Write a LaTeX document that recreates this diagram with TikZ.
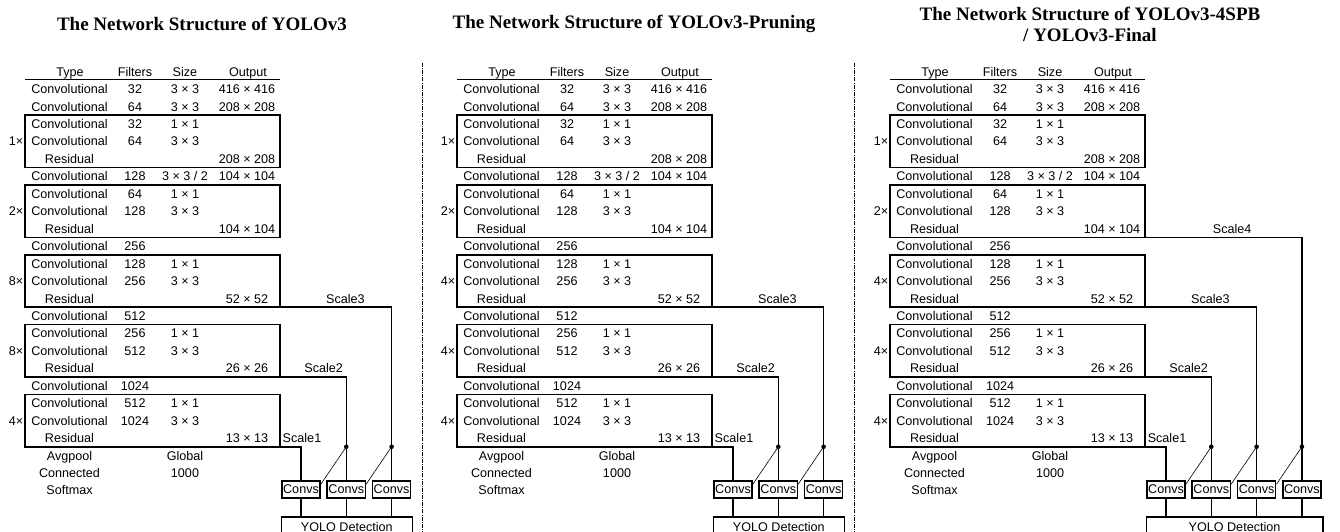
\documentclass[tikz,border=0pt]{standalone}
\usepackage{fontspec}
\setmainfont{Liberation Sans}
\newfontfamily\titleserif{Liberation Serif}
\usetikzlibrary{calc, positioning}

\newcommand{\tabfont}{\fontsize{12.6}{14}\selectfont}
\tikzset{
  tabcell/.style={font=\tabfont, inner sep=0pt, anchor=base},
  headcell/.style={tabcell},
  blockline/.style={line width=1.6pt},
  scaleline/.style={line width=1.6pt},
  thinlink/.style={line width=0.6pt},
  convbox/.style={draw, line width=1.6pt, font=\tabfont, inner sep=1.2pt, minimum height=17pt},
  yolobox/.style={draw, line width=1.6pt, font=\tabfont, anchor=north west, minimum height=21pt, inner sep=0pt},
  scalelbl/.style={tabcell},
  titlecell/.style={font=\titleserif\bfseries\fontsize{19}{21}\selectfont, align=center, inner sep=0pt},
  sepline/.style={line width=0.8pt, dash pattern=on 4pt off 1.2pt on 0.8pt off 1.2pt}
}

% one backbone table: #1 prefix, #2-#4 repeats of the last three blocks
\newcommand{\yolotable}[4]{%
  \foreach \nm/\x/\tx in {ty/70/Type, fi/135/Filters, sz/185/Size, ou/248/Output}
    \node[headcell] (#1h\nm) at (\x,76.5) {\tx};
  \draw[blockline] (25,79.5) -- (280,79.5);
  \foreach \i/\tx in {0/Convolutional, 1/Convolutional, 2/Convolutional, 3/Convolutional,
      4/Residual, 5/Convolutional, 6/Convolutional, 7/Convolutional, 8/Residual,
      9/Convolutional, 10/Convolutional, 11/Convolutional, 12/Residual,
      13/Convolutional, 14/Convolutional, 15/Convolutional, 16/Residual,
      17/Convolutional, 18/Convolutional, 19/Convolutional, 20/Residual,
      21/Avgpool, 22/Connected, 23/Softmax}
    \node[tabcell] (#1ty\i) at (69.5,{93.6+17.45*\i}) {\tx};
  \foreach \i/\tx in {0/32, 1/64, 2/32, 3/64, 5/128, 6/64, 7/128, 9/256, 10/128,
      11/256, 13/512, 14/256, 15/512, 17/1024, 18/512, 19/1024}
    \node[tabcell] (#1fi\i) at (135,{93.6+17.45*\i}) {\tx};
  \foreach \i/\tx in {0/{3 × 3}, 1/{3 × 3}, 2/{1 × 1}, 3/{3 × 3}, 5/{3 × 3 / 2},
      6/{1 × 1}, 7/{3 × 3}, 10/{1 × 1}, 11/{3 × 3}, 14/{1 × 1}, 15/{3 × 3},
      18/{1 × 1}, 19/{3 × 3}, 21/Global, 22/1000}
    \node[tabcell] (#1sz\i) at (185,{93.6+17.45*\i}) {\tx};
  \foreach \i/\tx in {0/{416 × 416}, 1/{208 × 208}, 4/{208 × 208}, 5/{104 × 104},
      8/{104 × 104}, 12/{52 × 52}, 16/{26 × 26}, 20/{13 × 13}}
    \node[tabcell] (#1ou\i) at (247,{93.6+17.45*\i}) {\tx};
  % residual blocks
  \foreach \k/\a/\b/\m in {1/1.5/4.5/1×, 2/5.5/8.5/2×, 3/9.5/12.5/#2, 4/13.5/16.5/#3, 5/17.5/20.5/#4}{
    \draw[blockline] (25,{89+17.45*\a}) rectangle (280,{89+17.45*\b});
    \coordinate (#1b\k) at (280,{89+17.45*\b});
    \node[tabcell, anchor=base east] (#1m\k) at (23.5,{93.6+17.45*(\b-1.5)}) {\m};
  }
}

% detection heads: #1 prefix, #2 number of scales
\newcommand{\yolohead}[2]{%
  \foreach \k in {1,...,#2}
    \node[convbox] (#1c\k) at ({301+45.3*(\k-1)},489.5) {Convs};
  \node[yolobox, minimum width={45.3pt*(#2-1)+40.5pt}] (#1yolo) at (280.5,516) {YOLO Detection};
  \foreach \k in {1,...,#2}{
    \pgfmathtruncatemacro\blk{6-\k}
    \draw[scaleline] (#1b\blk) -| (#1c\k.north);
    \node[scalelbl, xshift={22pt+21.7pt*(\k-1)}, yshift=4pt] (#1s\k) at (#1b\blk) {Scale\k};
    \draw[scaleline] (#1c\k.south) -- (#1c\k.south |- #1yolo.north);
  }
  \foreach \k in {2,...,#2}{
    \pgfmathtruncatemacro\prv{\k-1}
    \fill (#1c\k.north |- #1b5) circle (2.3pt);
    \draw[thinlink] (#1c\k.north |- #1b5) -- ([yshift=-4pt]#1c\prv.north east);
  }
}

\begin{document}
\begin{tikzpicture}[x=1pt, y=-1pt]
  \useasboundingbox (0,0) rectangle (1340,532);
  % titles
  \node[titlecell] (title1) at (202,24) {The Network Structure of YOLOv3};
  \node[titlecell] (title2) at (634,24) {The Network Structure of YOLOv3-Pruning};
  \node[titlecell] (title3) at (1090,24.5) {The Network Structure of YOLOv3-4SPB\\/ YOLOv3-Final};
  % panel separators
  \draw[sepline] (422,63) -- (422,540);
  \draw[sepline] (854,63) -- (854,540);
  % YOLOv3
  \yolotable{p1}{8×}{8×}{4×}
  \yolohead{p1}{3}
  % YOLOv3-Pruning
  \begin{scope}[xshift=432pt]
    \yolotable{p2}{4×}{4×}{4×}
    \yolohead{p2}{3}
  \end{scope}
  % YOLOv3-4SPB / YOLOv3-Final
  \begin{scope}[xshift=865pt]
    \yolotable{p3}{4×}{4×}{4×}
    \yolohead{p3}{4}
  \end{scope}
\end{tikzpicture}
\end{document}
